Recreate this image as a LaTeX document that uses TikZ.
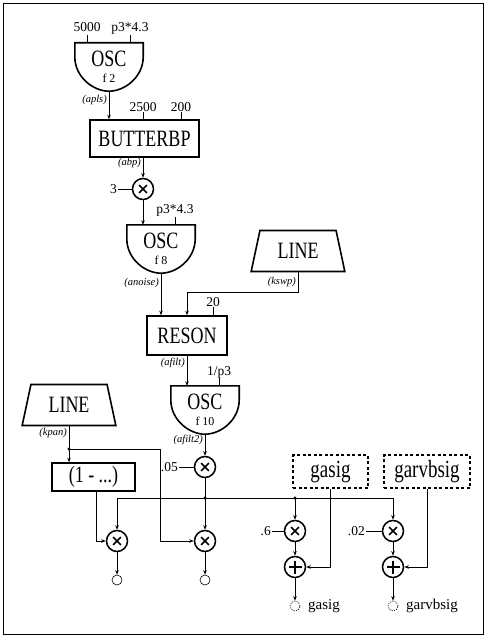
\documentclass[tikz,border=0pt]{standalone}
\usepackage{fontspec}
\setmainfont{Liberation Serif}
\usetikzlibrary{arrows.meta,shapes.geometric}

\newcommand{\bigf}{\fontsize{18}{20}\selectfont}
\newcommand{\smallf}{\fontsize{12}{13}\selectfont}
\newcommand{\tall}[1]{\scalebox{1}[1.3]{#1}}
% dome outline round an oscil node
\newcommand{\oscdome}[1]{%
  \draw[line width=1.6pt] (#1.north west) -- (#1.north east)
    -- ([yshift=-14pt]#1.north east)
    .. controls ([yshift=-34pt]#1.north east) and ([xshift=16pt]#1.south) .. (#1.south)
    .. controls ([xshift=-16pt]#1.south) and ([yshift=-34pt]#1.north west) .. ([yshift=-14pt]#1.north west)
    -- cycle;}

\begin{document}
\begin{tikzpicture}[x=1pt, y=-1pt,
  osc/.style={minimum width=68pt, minimum height=48pt, inner sep=0pt, align=center, font=\bigf},
  blk/.style={draw, line width=1.6pt, inner sep=0pt, font=\bigf},
  ramp/.style={trapezium, draw, line width=1.6pt, trapezium angle=76, trapezium stretches=true, minimum width=94pt, minimum height=41pt, font=\bigf},
  op/.style={circle, draw, line width=1.5pt, minimum size=21pt, inner sep=0pt},
  mul/.style={op, path picture={\draw[line width=1.5pt] (path picture bounding box.center) +(45:5.5pt) -- +(225:5.5pt) +(135:5.5pt) -- +(-45:5.5pt);}},
  add/.style={op, path picture={\draw[line width=1.5pt] (path picture bounding box.center) +(0:6.5pt) -- +(180:6.5pt) +(90:6.5pt) -- +(270:6.5pt);}},
  term/.style={circle, draw, line width=0.6pt, minimum size=10pt, inner sep=0pt},
  outbox/.style={draw, line width=1.5pt, dash pattern=on 3pt off 2.5pt, inner sep=0pt, minimum height=33pt, font=\fontsize{19}{22}\selectfont},
  num/.style={font=\fontsize{13.5}{15}\selectfont, inner sep=1pt},
  var/.style={font=\fontsize{10.5}{12}\selectfont\itshape, inner sep=1pt},
  outlbl/.style={font=\fontsize{15}{17}\selectfont, inner sep=1pt},
  wire/.style={line width=0.7pt},
  sig/.style={wire, -{Stealth[length=4.5pt,width=3.5pt]}},
]
\useasboundingbox (0,0) rectangle (487,636);
\draw[line width=0.8pt] (3,3) rectangle (483,634);

% oscillators
\node[osc] (osc2) at (109,67) {\tall{OSC}\\[-4pt]{\smallf f 2}};
\oscdome{osc2}
\node[osc] (osc8) at (161,249) {\tall{OSC}\\[-4pt]{\smallf f 8}};
\oscdome{osc8}
\node[osc] (osc10) at (205,410) {\tall{OSC}\\[-4pt]{\smallf f 10}};
\oscdome{osc10}

% filters and envelopes
\node[blk, minimum width=109pt, minimum height=37pt] (bp) at (144.5,138.5) {\tall{BUTTERBP}};
\node[blk, minimum width=80pt, minimum height=39pt] (rs) at (187,335.5) {\tall{RESON}};
\node[blk, minimum width=83pt, minimum height=28pt] (inv) at (93.5,477) {\tall{(1 -  ...)}};
\node[ramp] (swp) at (298,251) {\tall{LINE}};
\node[ramp] (pan) at (69,405) {\tall{LINE}};

% operators
\node[mul] (m1) at (143,189) {};
\node[mul] (m2) at (205,467) {};
\node[mul] (m3) at (117,541) {};
\node[mul] (m4) at (205,541) {};
\node[mul] (m5) at (295,531) {};
\node[mul] (m6) at (393,531) {};
\node[add] (a1) at (295,567) {};
\node[add] (a2) at (393,567) {};

% global send buses
\node[outbox, minimum width=75pt] (gs) at (330.5,471.5) {\tall{gasig}};
\node[outbox, minimum width=86pt] (gv) at (427,471.5) {\tall{garvbsig}};

% outputs
\node[term] (t1) at (117,580) {};
\node[term] (t2) at (205,580) {};
\node[term, dash pattern=on 1.2pt off 1.2pt] (t3) at (295,606) {};
\node[term, dash pattern=on 1.2pt off 1.2pt] (t4) at (393,606) {};
\node[outlbl, anchor=west] (t3l) at (307,606) {gasig};
\node[outlbl, anchor=west] (t4l) at (405,606) {garvbsig};

% parameter stubs
\node[num, anchor=base] (p5000) at (87,32) {5000};
\node[num, anchor=base] (pcps1) at (130,32) {p3*4.3};
\node[num, anchor=base] (p2500) at (143,112) {2500};
\node[num, anchor=base] (p200) at (181,112) {200};
\node[num, anchor=base] (pcps2) at (175,213) {p3*4.3};
\node[num, anchor=base] (p20) at (213,306) {20};
\node[num, anchor=base] (pdur) at (219,375) {1/p3};
\draw[wire] (p5000.south |- osc2.north) -- ++(0,-8);
\draw[wire] (pcps1.south |- osc2.north) -- ++(0,-8);
\draw[wire] (p2500.south |- bp.north) -- ++(0,-7);
\draw[wire] (p200.south |- bp.north) -- ++(0,-7);
\draw[wire] (pcps2.south |- osc8.north) -- ++(0,-8);
\draw[wire] (p20.south |- rs.north) -- ++(0,-8);
\draw[wire] (pdur.south |- osc10.north) -- ++(0,-8);

% constants
\node[num, anchor=east] (c3) at (118,189) {3};
\node[num, anchor=east] (c05) at (179,467) {.05};
\node[num, anchor=east] (c6) at (272,531) {.6};
\node[num, anchor=east] (c02) at (366,531) {.02};
\draw[wire] (c3.east) -- (m1.west);
\draw[wire] (c05.east) -- (m2.west);
\draw[wire] (c6.east) -- (m5.west);
\draw[wire] (c02.east) -- (m6.west);

% signal labels
\node[var, anchor=east] (vapls) at (108,100) {(apls)};
\node[var, anchor=east] (vabp) at (142,163) {(abp)};
\node[var, anchor=east] (vnoise) at (160,283) {(anoise)};
\node[var, anchor=east] (vswp) at (297,282) {(kswp)};
\node[var, anchor=east] (vfilt) at (186,363) {(afilt)};
\node[var, anchor=east] (vfilt2) at (204,440) {(afilt2)};
\node[var, anchor=east] (vpan) at (68,433) {(kpan)};

% signal flow
\draw[sig] (osc2.south) -- (osc2.south |- bp.north);
\draw[sig] (m1 |- bp.south) -- (m1.north);
\draw[sig] (m1.south) -- (m1.south |- osc8.north);
\draw[sig] (osc8.south) -- (osc8.south |- rs.north);
\draw[sig] (swp.south) -- ++(0,20) -| (rs.north);
\draw[sig] (rs.south) -- (rs.south |- osc10.north);
\draw[sig] (osc10.south) -- (m2.north);
\draw[sig] (m2.south) -- (m4.north);
\coordinate (jm) at (205,498);
\coordinate (jg) at (295,498);
\draw[sig] (jm) -| (m3.north);
\draw[sig] (jm) -| (m6.north);
\draw[sig] (jg) -- (m5.north);
\fill (jm) circle (1.6pt);
\fill (jg) circle (1.6pt);
\coordinate (jp) at (pan.south |- 0,449);
\draw[sig] (pan.south) -- (pan.south |- inv.north);
\draw[sig] (jp) -- ++(91,0) |- (m4.west);
\fill (jp) circle (1.6pt);
\draw[sig] ([xshift=2.5pt]inv.south) |- (m3.west);
\draw[sig] (m3.south) -- (t1.north);
\draw[sig] (m4.south) -- (t2.north);
\draw[sig] (m5.south) -- (a1.north);
\draw[sig] (m6.south) -- (a2.north);
\draw[sig] (gs.south) |- (a1.east);
\draw[sig] (gv.south) |- (a2.east);
\draw[sig] (a1.south) -- (t3.north);
\draw[sig] (a2.south) -- (t4.north);
\end{tikzpicture}
\end{document}
